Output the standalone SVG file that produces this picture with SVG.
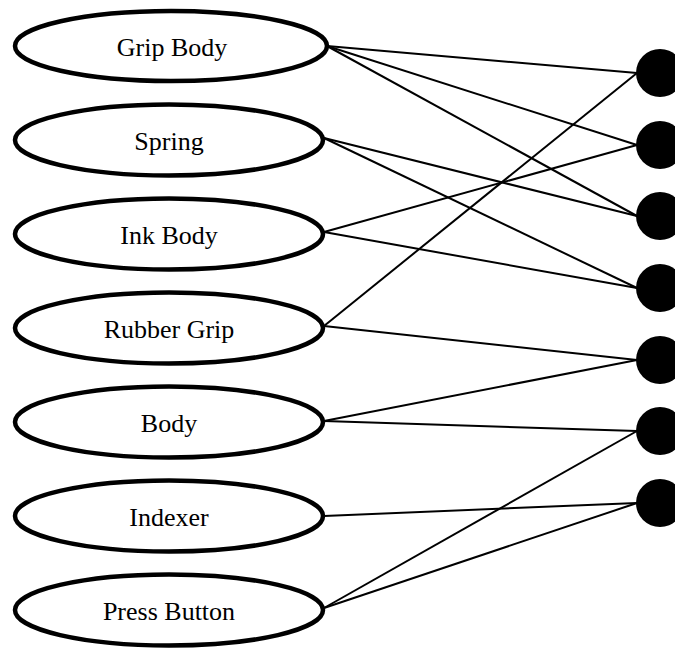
<svg xmlns="http://www.w3.org/2000/svg" width="675" height="650" viewBox="0 0 675 650">
  <style>
    .part ellipse { fill: #fff; stroke: #000; stroke-width: 4.5; }
    .part text { font-family: "Liberation Serif", "Times New Roman", serif; font-size: 26px; fill: #000; text-anchor: middle; }
    .port { fill: #000; }
    #connectors line { stroke: #000; stroke-width: 2; }
  </style>
  <rect width="675" height="650" fill="#fff"/>

  <!-- connectors: part (right edge) to port (left edge) -->
  <g id="connectors">
    <line x1="327" y1="46" x2="637" y2="73"/>
    <line x1="327" y1="46" x2="637" y2="145"/>
    <line x1="327" y1="46" x2="637" y2="216"/>
    <line x1="324" y1="138" x2="637" y2="216"/>
    <line x1="324" y1="138" x2="637" y2="288"/>
    <line x1="324" y1="232" x2="637" y2="145"/>
    <line x1="324" y1="232" x2="637" y2="288"/>
    <line x1="324" y1="326" x2="637" y2="73"/>
    <line x1="324" y1="326" x2="637" y2="360"/>
    <line x1="324" y1="421" x2="637" y2="360"/>
    <line x1="324" y1="421" x2="637" y2="431"/>
    <line x1="324" y1="516" x2="637" y2="503"/>
    <line x1="324" y1="608" x2="637" y2="431"/>
    <line x1="324" y1="608" x2="637" y2="503"/>
  </g>

  <!-- parts -->
  <g id="grip-body" class="part"><ellipse cx="171" cy="46" rx="156" ry="35"/><text x="172" y="56">Grip Body</text></g>
  <g id="spring" class="part"><ellipse cx="169" cy="140" rx="154" ry="35.5"/><text x="169" y="150">Spring</text></g>
  <g id="ink-body" class="part"><ellipse cx="169" cy="234" rx="154" ry="35.5"/><text x="169" y="244">Ink Body</text></g>
  <g id="rubber-grip" class="part"><ellipse cx="169" cy="328" rx="154" ry="35.5"/><text x="169" y="338">Rubber Grip</text></g>
  <g id="body" class="part"><ellipse cx="169" cy="422" rx="154" ry="35.5"/><text x="169" y="432">Body</text></g>
  <g id="indexer" class="part"><ellipse cx="169" cy="516" rx="154" ry="35.5"/><text x="169" y="526">Indexer</text></g>
  <g id="press-button" class="part"><ellipse cx="169" cy="610" rx="154" ry="35.5"/><text x="169" y="620">Press Button</text></g>

  <!-- ports -->
  <g id="port-1"><circle class="port" cx="660" cy="73" r="24"/></g>
  <g id="port-2"><circle class="port" cx="660" cy="145" r="24"/></g>
  <g id="port-3"><circle class="port" cx="660" cy="216" r="24"/></g>
  <g id="port-4"><circle class="port" cx="660" cy="288" r="24"/></g>
  <g id="port-5"><circle class="port" cx="660" cy="360" r="24"/></g>
  <g id="port-6"><circle class="port" cx="660" cy="431" r="24"/></g>
  <g id="port-7"><circle class="port" cx="660" cy="503" r="24"/></g>
</svg>
